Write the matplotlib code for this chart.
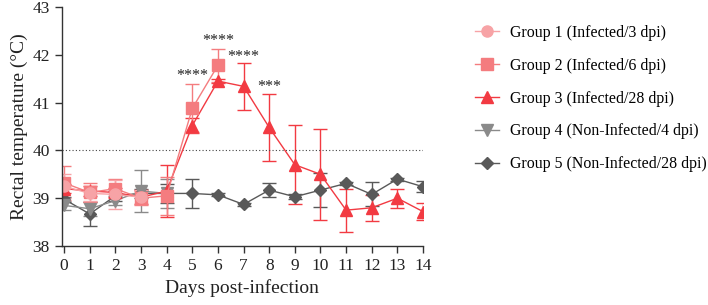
import matplotlib
matplotlib.use("Agg")
import matplotlib.pyplot as plt
from matplotlib.lines import Line2D
import numpy as np

plt.rcParams['font.family'] = ['Liberation Serif', 'DejaVu Serif']

days_g1 = [0, 1, 2, 3]
g1 = [39.25, 39.10, 39.08, 39.02]
g1_err = [0.25, 0.15, 0.30, 0.15]

days_g2 = [0, 1, 2, 3, 4, 5, 6]
g2 = [39.32, 39.12, 39.20, 39.00, 39.05, 40.88, 41.78]
g2_err = [0.35, 0.20, 0.20, 0.15, 0.40, 0.50, 0.35]

days_g3 = list(range(15))
g3 = [39.20, 39.15, 39.12, 39.02, 39.15, 40.52, 41.45, 41.34, 40.48, 39.70, 39.50, 38.75, 38.80, 39.00, 38.72]
g3_err = [0.10, 0.10, 0.10, 0.15, 0.55, 0.15, 0.05, 0.49, 0.70, 0.83, 0.95, 0.45, 0.27, 0.20, 0.18]

days_g4 = [0, 1, 2, 3, 4]
g4 = [38.85, 38.78, 38.95, 39.15, 39.10]
g4_err = [0.10, 0.15, 0.10, 0.43, 0.30]

days_g5 = list(range(15))
g5 = [38.98, 38.67, 39.05, 39.10, 39.10, 39.10, 39.07, 38.87, 39.17, 39.03, 39.17, 39.31, 39.08, 39.40, 39.24]
g5_err = [0.05, 0.25, 0.10, 0.10, 0.20, 0.30, 0.03, 0.03, 0.15, 0.05, 0.35, 0.03, 0.25, 0.03, 0.12]

labels = ["Group 1 (Infected/3 dpi)", "Group 2 (Infected/6 dpi)", "Group 3 (Infected/28 dpi)",
          "Group 4 (Non-Infected/4 dpi)", "Group 5 (Non-Infected/28 dpi)"]

star_days = [5, 6, 7, 8]
star_y = [41.55, 42.28, 41.95, 41.32]
star_txt = ["****", "****", "****", "***"]

xticks = list(range(15))
yticks = [38, 39, 40, 41, 42, 43]

fig = plt.figure(figsize=(7.08, 3.05), dpi=100)
ax = fig.add_axes([0.0869, 0.1934, 0.5106, 0.7836])

series = [
    (days_g5, g5, g5_err, '#595959', 'D', 6.5, labels[4]),
    (days_g4, g4, g4_err, '#8a8a8a', 'v', 8, labels[3]),
    (days_g3, g3, g3_err, '#f23a42', '^', 8, labels[2]),
    (days_g2, g2, g2_err, '#f47c7f', 's', 8, labels[1]),
    (days_g1, g1, g1_err, '#f7a3a6', 'o', 8, labels[0]),
]
handles = {}
for x, y, e, c, m, ms, lab in series:
    ax.errorbar(x, y, yerr=e, color=c, marker=m, markersize=ms, linewidth=1.0,
                elinewidth=1.0, capsize=5, capthick=1.0,
                markeredgecolor=c, markerfacecolor=c)
    handles[lab] = Line2D([], [], color=c, marker=m, markersize=ms, linewidth=1.0,
                          markeredgecolor=c, markerfacecolor=c)

ax.axhline(40, color='#444444', linestyle=(0, (1, 2)), linewidth=0.8, xmin=0, xmax=1)

for d, yv, t in zip(star_days, star_y, star_txt):
    ax.text(d, yv, t, ha='center', va='center', fontsize=11.5, color='#222222')

ax.set_xlim(-0.1, 14)
ax.set_ylim(38, 43)
ax.set_xticks(xticks)
ax.set_yticks(yticks)
ax.spines['top'].set_visible(False)
ax.spines['right'].set_visible(False)
for s in ['left', 'bottom']:
    ax.spines[s].set_color('#333333')
    ax.spines[s].set_linewidth(1.0)
ax.tick_params(axis='both', labelsize=12.5, direction='out', length=5, width=1.0, color='#333333', labelcolor='#222222')
ax.set_xlabel("Days post-infection", fontsize=14, color='#222222', labelpad=4)
ax.set_ylabel("Rectal temperature (°C)", fontsize=14, color='#222222', labelpad=3)

fig.legend([handles[l] for l in labels], labels, loc='upper left', bbox_to_anchor=(0.662, 0.94),
           frameon=False, fontsize=11.4, labelspacing=1.07, handlelength=1.5, handletextpad=0.7,
           borderaxespad=0)

fig.savefig("out.png", dpi=100)
